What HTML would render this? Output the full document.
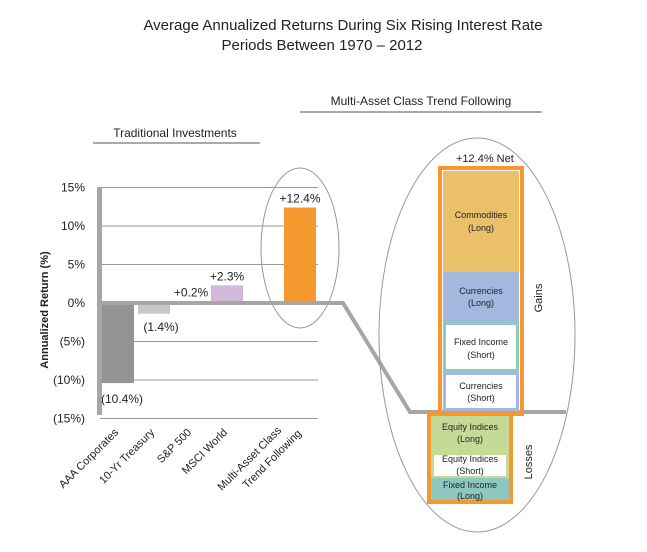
<!DOCTYPE html>
<html><head><meta charset="utf-8"><style>
body{margin:0;background:#fff;}
svg{display:block;font-family:"Liberation Sans","DejaVu Sans",sans-serif;}
</style></head><body>
<svg id="chart" width="647" height="552" viewBox="0 0 647 552">
<text x="343" y="30" text-anchor="middle" font-size="15" fill="#222">Average Annualized Returns During Six Rising Interest Rate</text>
<text x="322" y="50" text-anchor="middle" font-size="15" fill="#222">Periods Between 1970 – 2012</text>
<text x="421" y="105" text-anchor="middle" font-size="12" fill="#222">Multi-Asset Class Trend Following</text>
<line x1="300" y1="112" x2="542" y2="112" stroke="#555" stroke-width="1"/>
<text x="175" y="137" text-anchor="middle" font-size="12" fill="#222">Traditional Investments</text>
<line x1="93" y1="143" x2="260" y2="143" stroke="#555" stroke-width="1"/>
<text transform="translate(48,310) rotate(-90)" text-anchor="middle" font-size="11" font-weight="bold" fill="#222">Annualized Return (%)</text>
<g id="grid"></g>
<g id="bars"></g>
<rect x="97" y="187" width="5" height="228" fill="#a6a6a6"/>
<polyline points="100,303 343,303 410,412 566,412" fill="none" stroke="#a6a6a6" stroke-width="4"/>
<ellipse cx="300" cy="248" rx="39" ry="80" fill="none" stroke="#999" stroke-width="1"/>
<ellipse cx="477" cy="335" rx="98" ry="197" fill="none" stroke="#999" stroke-width="1"/>
<g font-size="9" fill="#222" text-anchor="middle">
<rect x="440" y="168" width="82" height="246" fill="none" stroke="#f4982f" stroke-width="4"/>
<rect x="443" y="171" width="76" height="101" fill="#eac06a"/>
<text x="481" y="218">Commodities</text><text x="481" y="231">(Long)</text>
<rect x="443" y="272" width="76" height="50" fill="#a2b8de"/>
<text x="481" y="294">Currencies</text><text x="481" y="306">(Long)</text>
<rect x="444.5" y="323.5" width="73" height="47" fill="#fff" stroke="#8fcabf" stroke-width="3"/>
<text x="481" y="345">Fixed Income</text><text x="481" y="358">(Short)</text>
<rect x="444.5" y="373.5" width="73" height="36" fill="#fff" stroke="#a2b8de" stroke-width="3"/>
<text x="481" y="389">Currencies</text><text x="481" y="401">(Short)</text>
</g>
<g font-size="9" fill="#222" text-anchor="middle">
<rect x="429" y="414" width="82" height="88" fill="none" stroke="#f4982f" stroke-width="4"/>
<rect x="431" y="416" width="78" height="37" fill="#c6da97"/>
<text x="470" y="430">Equity Indices</text><text x="470" y="442">(Long)</text>
<rect x="432.5" y="453.5" width="75" height="24" fill="#fff" stroke="#c6da97" stroke-width="3"/>
<text x="470" y="462">Equity Indices</text><text x="470" y="474">(Short)</text>
<rect x="431" y="478" width="78" height="22" fill="#8cc8bf"/>
<text x="470" y="488">Fixed Income</text><text x="470" y="499">(Long)</text>
</g>
<text x="456" y="162" font-size="11" fill="#222">+12.4% Net</text>
<text transform="translate(542,298) rotate(-90)" text-anchor="middle" font-size="11" fill="#222">Gains</text>
<text transform="translate(532,462) rotate(-90)" text-anchor="middle" font-size="11" fill="#222">Losses</text>
</svg>
<script>
const categories = ["AAA Corporates","10-Yr Treasury","S&P 500","MSCI World","Multi-Asset Class|Trend Following"];
const values = [-10.4, -1.4, 0.2, 2.3, 12.4];
const valueLabels = ["(10.4%)","(1.4%)","+0.2%","+2.3%","+12.4%"];
const tickValues = [15,10,5,0,-5,-10,-15];
const tickLabels = ["15%","10%","5%","0%","(5%)","(10%)","(15%)"];
const colors = ["#939393","#c8c8c8","#7b5d9a","#d2b9da","#f5992f"];
const NS="http://www.w3.org/2000/svg";
const y = v => 303 - v * 7.7;
const barX = [102,138,175,211,284];
const bw = 32;
const grid=document.getElementById('grid'), bars=document.getElementById('bars');
function mk(tag,attrs,parent,txt){const e=document.createElementNS(NS,tag);for(const k in attrs)e.setAttribute(k,attrs[k]);if(txt!==undefined)e.textContent=txt;parent.appendChild(e);return e;}
tickValues.forEach((t,i)=>{
  const l=mk('line',{x1:100,x2:318,y1:y(t),y2:y(t),stroke:'#999','stroke-width':1},grid);
  
  
  const tx=mk('text',{x:85,y:y(t)+4,'text-anchor':'end','font-size':12,fill:'#222'},grid,tickLabels[i]);
  
  
});
values.forEach((v,i)=>{
  const x=barX[i];
  const top=Math.min(y(v),y(0)), h=Math.max(Math.abs(y(v)-y(0)),1.5);
  const r=mk('rect',{x:x,y:top,width:bw,height:h,fill:colors[i]},bars);
  
  
  let lx, ly, anchor='middle';
  if(v>=0){lx=x+bw/2; ly=y(v)-5;}
  else if(v<-5){lx=x+20; ly=y(v)+20;}
  else {lx=x+23; ly=y(v)+17;}
  const t=mk('text',{x:lx,y:ly,'text-anchor':anchor,'font-size':12,fill:'#222'},bars,valueLabels[i]);
  
  
  const parts=categories[i].split('|');
  parts.forEach((p,j)=>{
    const ex = x+ (parts.length>1 ? (j===0? -2 : 18) : 17) ;
    const ey = 433 + (parts.length>1 ? (j===0?-2:1) : 0);
    const c=mk('text',{transform:`translate(${ex},${ey}) rotate(-45)`,'text-anchor':'end','font-size':11,fill:'#222'},bars,p);
    
    
  });
});
</script>
</body></html>
